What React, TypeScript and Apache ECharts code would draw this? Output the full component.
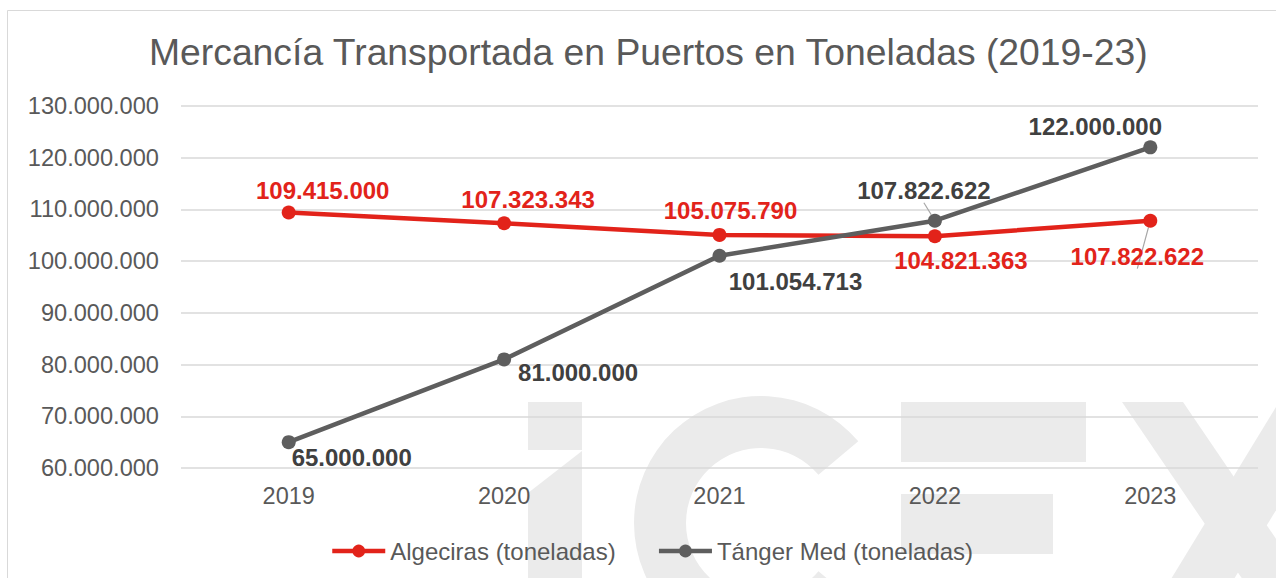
import React, { useEffect, useRef } from "react";
import * as echarts from "echarts";

const TITLE = "Mercancía Transportada en Puertos en Toneladas (2019-23)";
const years = ["2019", "2020", "2021", "2022", "2023"];
const algecirasName = "Algeciras (toneladas)";
const tangerName = "Tánger Med (toneladas)";
const algeciras = [109415000, 107323343, 105075790, 104821363, 107822622];
const tanger = [65000000, 81000000, 101054713, 107822622, 122000000];
const yMin = 60000000;
const yMax = 130000000;
const yStep = 10000000;

// label offsets (styling, relative to each point)
const algOffsets = [[34, -22], [24, -24], [11, -24], [26, 24], [-13, 36]];
const tanOffsets = [[63, 15], [74, 13], [76, 26], [-11, -30], [-55, -21]];
const algLeader = [false, false, false, false, true];
const tanLeader = [false, false, false, true, false];

const FONT = "'Liberation Sans', Arial, Helvetica, sans-serif";
const RED = "#E2231A";
const GRAY = "#5E5E5E";
const WM = "#EBEBEB";

const fmt = (v: number) => String(Math.round(v)).replace(/\B(?=(\d{3})+(?!\d))/g, ".");

function buildData(vals: number[], offs: number[][], leader: boolean[], color: string) {
  return vals.map((v, i) => ({
    value: v,
    label: {
      show: true,
      position: "inside",
      offset: offs[i],
      formatter: (p: any) => fmt(p.value),
      color,
      fontFamily: FONT,
      fontWeight: "bold",
      fontSize: 24,
    },
    labelLine: leader[i]
      ? { show: true, lineStyle: { color: "#A6A6A6", width: 1.2 } }
      : { show: false },
  }));
}

export default function App() {
  const ref = useRef<HTMLDivElement>(null);
  useEffect(() => {
    document.body.style.margin = "0";
    if (!ref.current) return;
    const chart = echarts.init(ref.current, null, { renderer: "svg" });
    const wmZ = -10;
    chart.setOption({
      animation: false,
      backgroundColor: "#ffffff",
      textStyle: { fontFamily: FONT },
      title: {
        text: TITLE,
        left: 144,
        top: 28,
        textStyle: { fontFamily: FONT, fontSize: 37.3, fontWeight: "normal", color: "#595959" },
      },
      graphic: [
        { type: "rect", z: wmZ, silent: true, shape: { x: 7.5, y: 10.5, width: 1400, height: 800 }, style: { fill: "none", stroke: "#D9D9D9", lineWidth: 1 } },
        { type: "rect", z: wmZ, silent: true, shape: { x: 528, y: 402, width: 54, height: 48 }, style: { fill: WM } },
        { type: "polygon", z: wmZ, silent: true, shape: { points: [[582, 451], [582, 700], [528, 700], [528, 493]] }, style: { fill: WM } },
        { type: "sector", z: wmZ, silent: true, shape: { cx: 761, cy: 523, r: 127, r0: 75, startAngle: (40 * Math.PI) / 180, endAngle: (320 * Math.PI) / 180, clockwise: true }, style: { fill: WM } },
        { type: "rect", z: wmZ, silent: true, shape: { x: 901, y: 402, width: 185, height: 60 }, style: { fill: WM } },
        { type: "rect", z: wmZ, silent: true, shape: { x: 901, y: 494, width: 152, height: 60 }, style: { fill: WM } },
        { type: "rect", z: wmZ, silent: true, shape: { x: 901, y: 586, width: 120, height: 60 }, style: { fill: WM } },
        { type: "polygon", z: wmZ, silent: true, shape: { points: [[1122, 402], [1183, 402], [1387, 702], [1326, 702]] }, style: { fill: WM } },
        { type: "polygon", z: wmZ, silent: true, shape: { points: [[1279, 402], [1342, 402], [1159, 702], [1096, 702]] }, style: { fill: WM } },
      ],
      legend: {
        left: 325,
        top: 534,
        itemWidth: 53,
        itemHeight: 16,
        itemGap: 41,
        lineStyle: { width: 4.5 },
        textStyle: { fontFamily: FONT, fontSize: 24, color: "#595959" },
        data: [algecirasName, tangerName],
      },
      grid: { left: 181, right: 18, top: 106, bottom: 110, containLabel: false },
      xAxis: {
        type: "category",
        data: years,
        boundaryGap: true,
        axisLine: { show: false },
        axisTick: { show: false },
        axisLabel: { fontFamily: FONT, fontSize: 23.5, color: "#595959", margin: 16 },
      },
      yAxis: {
        type: "value",
        min: yMin,
        max: yMax,
        interval: yStep,
        axisLine: { show: false },
        axisTick: { show: false },
        splitLine: { lineStyle: { color: "#D9D9D9", width: 1.5 } },
        axisLabel: { fontFamily: FONT, fontSize: 23.6, color: "#595959", margin: 22, formatter: (v: number) => fmt(v) },
      },
      series: [
        {
          name: algecirasName,
          type: "line",
          data: buildData(algeciras, algOffsets, algLeader, RED),
          symbol: "circle",
          symbolSize: 14,
          lineStyle: { color: RED, width: 4.5 },
          itemStyle: { color: RED },
          z: 3,
        },
        {
          name: tangerName,
          type: "line",
          data: buildData(tanger, tanOffsets, tanLeader, "#404040"),
          symbol: "circle",
          symbolSize: 14,
          lineStyle: { color: GRAY, width: 4.5 },
          itemStyle: { color: GRAY },
          z: 4,
        },
      ],
    });
    return () => chart.dispose();
  }, []);
  return <div ref={ref} style={{ width: 1276, height: 578 }} />;
}
